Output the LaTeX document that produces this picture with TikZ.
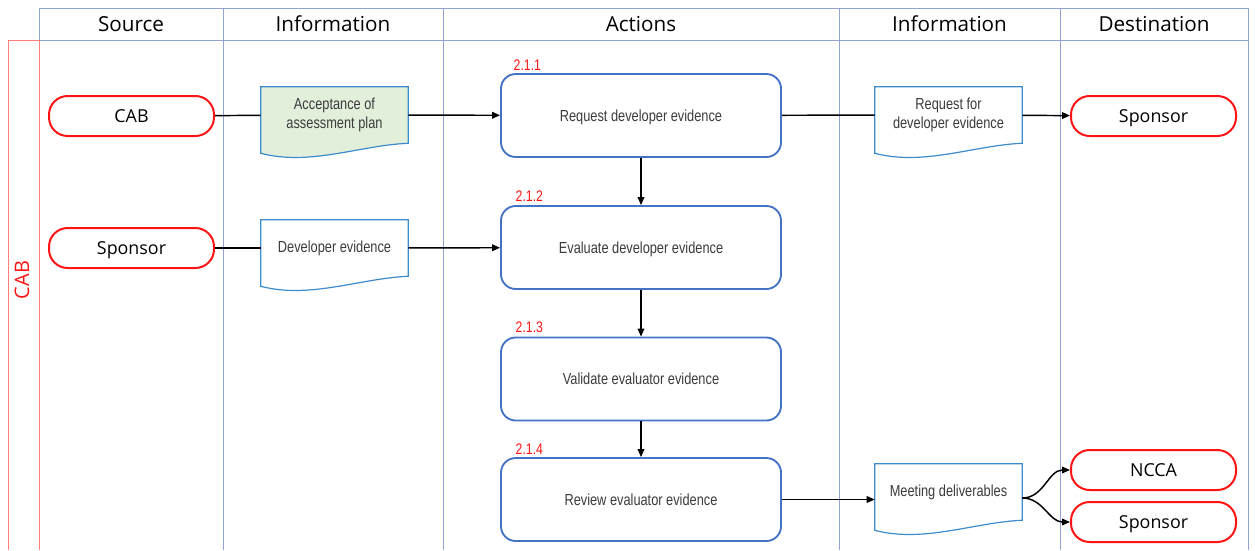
\documentclass[tikz,border=0pt]{standalone}
\usepackage{fontspec}
\setmainfont{Open Sans}
\newfontfamily\arialn[FakeStretch=0.8]{Liberation Sans}
\usetikzlibrary{arrows.meta,calc}
\pgfdeclarelayer{bg}
\pgfsetlayers{bg,main}

\definecolor{gridblue}{RGB}{143,164,207}
\definecolor{lanered}{RGB}{255,125,125}
\definecolor{termred}{RGB}{255,20,20}
\definecolor{boxblue}{RGB}{68,114,196}
\definecolor{docblue}{RGB}{60,140,205}
\definecolor{docgreen}{RGB}{226,239,218}
\definecolor{txtgrey}{RGB}{60,60,60}

\tikzset{
  grid/.style={draw=gridblue, line width=0.6pt},
  lane/.style={draw=lanered, line width=0.6pt},
  head/.style={font=\fontsize{15.5}{18}\selectfont, text=black,
    text height=11pt, text depth=0pt},
  term/.style={draw=termred, line width=1.5pt, fill=white, rounded corners=14pt,
    minimum width=123.75pt, minimum height=30pt, inner sep=0pt,
    text height=9.6pt, text depth=0pt,
    font=\fontsize{13.4}{16}\selectfont},
  actbox/.style={draw=boxblue, line width=1.4pt, fill=white, rounded corners=11pt,
    minimum width=210pt, minimum height=62.25pt, inner sep=0pt,
    text height=8.6pt, text depth=0pt,
    font=\arialn\fontsize{12}{14.3}\selectfont, text=txtgrey},
  doc/.style={minimum width=110.25pt, minimum height=42pt, inner sep=0pt,
    align=center, font=\arialn\fontsize{12}{14.3}\selectfont, text=txtgrey},
  docline/.style={draw=docblue, line width=0.9pt},
  stepno/.style={anchor=base west, text=termred, font=\arialn\fontsize{11.5}{13}\selectfont},
  link/.style={draw=black, line width=1.1pt},
  arrow/.style={link, -{Triangle[length=6pt,width=5pt]}},
}

% document symbol: straight top and sides, wavy bottom edge
\newcommand\docoutline[2]{%
  \begin{pgfonlayer}{bg}
  \draw[docline, fill=#2] (#1.north west) -- (#1.north east) -- (#1.south east)
    .. controls ($(#1.south east)+(-48,2)$) and ($(#1.south west)+(49,23)$)
    .. ($(#1.south west)+(0,10)$) -- cycle;
  \end{pgfonlayer}}

\begin{document}
\begin{tikzpicture}[x=0.75pt, y=-0.75pt]
\useasboundingbox (0,0) rectangle (1255,550);

% header row and column lines
\draw[grid] (39,8) rectangle (1248,40);
\foreach \cx in {223,443,839,1060,1248}
  \draw[grid] (\cx,8) -- (\cx,550);

% swimlane
\draw[lane] (39,550) -- (39,40) -- (8,40) -- (8,550);
\node[rotate=90, text=termred, font=\fontsize{15}{18}\selectfont] (lanelbl) at (22,280) {CAB};

% column headings
\node[head] (h1) at (131,24) {Source};
\node[head] (h2) at (333,24) {Information};
\node[head] (h3) at (641,24) {Actions};
\node[head] (h4) at (949.5,24) {Information};
\node[head] (h5) at (1154,24) {Destination};

% sources
\node[term] (cab) at (131.5,116) {CAB};
\node[term] (spsrc) at (131.5,248) {Sponsor};

% inbound information
\node[doc] (acc) at (334.5,115) {Acceptance of\\assessment plan};
\docoutline{acc}{docgreen}
\node[doc] (devev) at (334.5,248) {Developer evidence};
\docoutline{devev}{white}

% actions
\node[actbox] (a1) at (641,115.5) {Request developer evidence};
\node[actbox] (a2) at (641,247.5) {Evaluate developer evidence};
\node[actbox] (a3) at (641,379) {Validate evaluator evidence};
\node[actbox] (a4) at (641,499.5) {Review evaluator evidence};
\node[stepno] (n1) at (509,70) {2.1.1};
\node[stepno] (n2) at (511,201) {2.1.2};
\node[stepno] (n3) at (511,332) {2.1.3};
\node[stepno] (n4) at (511,454) {2.1.4};

% outbound information
\node[doc] (reqdev) at (948.5,115) {Request for\\developer evidence};
\docoutline{reqdev}{white}
\node[doc] (meet) at (948.5,492) {Meeting deliverables};
\docoutline{meet}{white}

% destinations
\node[term] (spdst) at (1153.5,116) {Sponsor};
\node[term] (ncca) at (1153.5,470) {NCCA};
\node[term] (spdst2) at (1153.5,522) {Sponsor};

% connectors
\draw[link] (cab) -- (acc);
\draw[arrow] (acc) -- (a1);
\draw[link] (spsrc) -- (devev);
\draw[arrow] (devev) -- (a2);
\draw[link] (a1) -- (reqdev);
\draw[arrow] (reqdev) -- (spdst);
\draw[arrow] (a1) -- (a2);
\draw[arrow] (a2) -- (a3);
\draw[arrow] (a3) -- (a4);
\draw[arrow] (a4.east) -- (a4.east -| meet.west);
\coordinate (mout) at ($(meet.east)+(0,6)$);
\draw[arrow] (mout) to[out=0, in=180] (ncca.west);
\draw[arrow] (mout) to[out=0, in=180] (spdst2.west);
\end{tikzpicture}
\end{document}
